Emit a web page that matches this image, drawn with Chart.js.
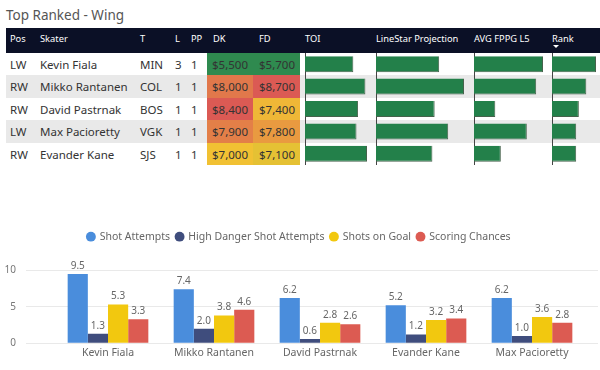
<!DOCTYPE html>
<html><head><meta charset="utf-8">
<script src="https://cdn.jsdelivr.net/npm/chart.js@4.4.1/dist/chart.umd.min.js"></script>
<style>
html,body{margin:0;padding:0;background:#fff;width:600px;height:370px;overflow:hidden;font-family:"Noto Sans",sans-serif;}
.abs{position:absolute;white-space:nowrap;}
#title{left:6px;top:5px;font-size:13.5px;color:#555;line-height:20px;}
.hdrbg{left:6px;top:28px;width:594px;height:25px;background:#0b1026;}
.hdr{top:28px;height:22px;line-height:22px;font-size:9.3px;color:#fff;}
.stripe{left:6px;width:594px;background:#e9e9e9;}
.cell{font-size:11.5px;color:#333;}
.num{text-align:right;}
canvas{position:absolute;}
</style></head>
<body>
<div id="title" class="abs">Top Ranked - Wing</div>
<div id="table"></div>
<canvas id="cToi"></canvas>
<canvas id="cProj"></canvas>
<canvas id="cAvg"></canvas>
<canvas id="cRank"></canvas>
<canvas id="cMain" width="600" height="150" style="left:0;top:220px;"></canvas>
<script>
// ---------- data ----------
const headers = ['Pos','Skater','T','L','PP','DK','FD','TOI','LineStar Projection','AVG FPPG L5','Rank'];
const positions = ['LW','RW','RW','LW','RW'];
const skaters = ['Kevin Fiala','Mikko Rantanen','David Pastrnak','Max Pacioretty','Evander Kane'];
const teams = ['MIN','COL','BOS','VGK','SJS'];
const lines = [3,1,1,1,1];
const powerPlay = [1,1,1,1,1];
const dkSalary = [5500,8000,8400,7900,7000];
const fdSalary = [5700,8700,7400,7800,7100];
const toi = [15.2,19.0,16.7,16.2,19.5];
const projection = [11.2,15.6,10.4,12.8,10.0];
const avgFppgL5 = [16.2,14.6,5.0,12.4,6.3];
const rankScore = [5.0,3.9,3.05,2.75,2.75];

const chartPlayers = ['Kevin Fiala','Mikko Rantanen','David Pastrnak','Evander Kane','Max Pacioretty'];
const shotAttempts = [9.5,7.4,6.2,5.2,6.2];
const highDangerShotAttempts = [1.3,2.0,0.6,1.2,1.0];
const shotsOnGoal = [5.3,3.8,2.8,3.2,3.6];
const scoringChances = [3.3,4.6,2.6,3.4,2.8];
const yTicks = [0,5,10];

// ---------- table (HTML) ----------
const FONT = '"Noto Sans", sans-serif';
const tbl = document.getElementById('table');
const ROW0 = 53, ROWH = 22.4;
function add(cls, style, text){
  const d = document.createElement('div');
  d.className = 'abs ' + cls;
  Object.assign(d.style, style);
  if (text !== undefined) d.textContent = text;
  tbl.appendChild(d);
  return d;
}
add('hdrbg', {});
const hdrX = [10,40,140,175,191,213,259,305,376,474,552];
headers.forEach((h,i)=> add('hdr', {left: hdrX[i]+'px'}, h));
// sort indicator under Rank
add('', {left:'553px', top:'45px', width:'0', height:'0', borderLeft:'3.5px solid transparent', borderRight:'3.5px solid transparent', borderTop:'3.5px solid #fff'});

function lerp(a,b,t){return a.map((v,i)=>Math.round(v+(b[i]-v)*t));}
function scaleColor(v, arr){
  const lo = Math.min(...arr), hi = Math.max(...arr), mid = (lo+hi)/2;
  const g=[47,138,79], y=[242,197,50], r=[219,90,84];
  const c = v <= mid ? lerp(g,y,(v-lo)/(mid-lo)) : lerp(y,r,(v-mid)/(hi-mid));
  return 'rgb('+c.join(',')+')';
}
const fmt = v => '$' + v.toLocaleString('en-US');
skaters.forEach((s,i)=>{
  const top = ROW0 + ROWH*i;
  if (i % 2 === 1) add('stripe', {top: top+'px', height: ROWH+'px'});
  add('', {left:'207px', top: top+'px', width:'46px', height: ROWH+'px', background: scaleColor(dkSalary[i], dkSalary)});
  add('', {left:'253px', top: top+'px', width:'47px', height: ROWH+'px', background: scaleColor(fdSalary[i], fdSalary)});
  const ts = {top:(top+1)+'px', height:ROWH+'px', lineHeight:ROWH+'px'};
  add('cell', Object.assign({left:'10px'}, ts), positions[i]);
  add('cell', Object.assign({left:'40px'}, ts), s);
  add('cell', Object.assign({left:'140px'}, ts), teams[i]);
  add('cell', Object.assign({left:'175px'}, ts), String(lines[i]));
  add('cell', Object.assign({left:'191px'}, ts), String(powerPlay[i]));
  add('cell num', Object.assign({left:'207px', width:'41px'}, ts), fmt(dkSalary[i]));
  add('cell num', Object.assign({left:'253px', width:'42px'}, ts), fmt(fdSalary[i]));
});

// ---------- data bars in table (Chart.js) ----------
function miniBars(id, values, left, width){
  const cv = document.getElementById(id);
  cv.width = width; cv.height = 112;
  cv.style.left = left + 'px'; cv.style.top = ROW0 + 'px';
  new Chart(cv, {
    type:'bar',
    data:{labels: skaters, datasets:[{data: values, backgroundColor:'#23804a', borderColor:'#46624c',
      borderWidth:{top:0,left:0,right:1,bottom:1}, barPercentage:0.714, categoryPercentage:1}]},
    options:{indexAxis:'y', responsive:false, animation:false, events:[], devicePixelRatio:1,
      layout:{padding:0},
      plugins:{legend:{display:false}, tooltip:{enabled:false}},
      scales:{
        x:{display:false, min:0, max:Math.max(...values)},
        y:{display:true, grid:{display:false, drawTicks:false}, ticks:{display:false},
           border:{display:true, color:'#444', dash:[1,2], width:1}}
      }}
  });
}
miniBars('cToi', toi, 305, 62);
miniBars('cProj', projection, 376, 88);
miniBars('cAvg', avgFppgL5, 474, 69);
miniBars('cRank', rankScore, 552, 44);

// ---------- main grouped bar chart ----------
const legendFit = {
  id:'legendFit',
  beforeLayout(chart){
    const lg = chart.legend;
    if (lg && !lg._patched){
      const orig = lg.fit;
      lg.fit = function(){ orig.call(this); this.height = 44.9; };
      lg._patched = true;
    }
  }
};
const valueLabels = {
  id:'valueLabels',
  afterDatasetsDraw(chart){
    const ctx = chart.ctx;
    ctx.save();
    ctx.font = '10px ' + FONT;
    ctx.fillStyle = '#666';
    ctx.textAlign = 'center';
    ctx.textBaseline = 'bottom';
    chart.data.datasets.forEach((ds, i)=>{
      chart.getDatasetMeta(i).data.forEach((el, j)=>{
        ctx.fillText(ds.data[j].y.toFixed(1), el.x, el.y - 3);
      });
    });
    ctx.restore();
  }
};
const toXY = arr => arr.map((v,i)=>({x:i, y:v}));
new Chart(document.getElementById('cMain'), {
  type:'bar',
  data:{datasets:[
    {label:'Shot Attempts', data:toXY(shotAttempts), backgroundColor:'#4a8ddc', borderWidth:0},
    {label:'High Danger Shot Attempts', data:toXY(highDangerShotAttempts), backgroundColor:'#3f4d7d', borderWidth:0},
    {label:'Shots on Goal', data:toXY(shotsOnGoal), backgroundColor:'#f2c80f', borderWidth:0},
    {label:'Scoring Chances', data:toXY(scoringChances), backgroundColor:'#dc5b52', borderWidth:0}
  ]},
  options:{
    responsive:false, animation:false, events:[], devicePixelRatio:1,
    layout:{padding:{top:5.4, right:2, left:0, bottom:0}},
    datasets:{bar:{barPercentage:1, categoryPercentage:0.761}},
    plugins:{
      legend:{position:'top', labels:{usePointStyle:true, pointStyle:'circle', boxWidth:7, boxHeight:7, padding:6,
        color:'#666', font:{size:10.5, family:FONT}}},
      tooltip:{enabled:false}
    },
    scales:{
      x:{type:'linear', bounds:'data', offset:false, min:-0.7736, max:4.6226,
        grid:{display:false, drawTicks:false}, border:{display:false},
        afterBuildTicks: s => { s.ticks = chartPlayers.map((_,i)=>({value:i})); },
        ticks:{callback: v => chartPlayers[v], color:'#666', font:{size:10.5, family:FONT}, padding:3, autoSkip:false, maxRotation:0},
        afterFit: s => { s.height = 26.7; }
      },
      y:{min:0, max:10,
        afterBuildTicks: s => { s.ticks = yTicks.map(v=>({value:v})); },
        grid:{color:'#e9e9e9', drawTicks:false}, border:{display:false},
        ticks:{color:'#777', font:{size:10, family:FONT}, padding:10},
        afterFit: s => { s.width = 26; }
      }
    }
  },
  plugins:[legendFit, valueLabels]
});
</script>
</body></html>
